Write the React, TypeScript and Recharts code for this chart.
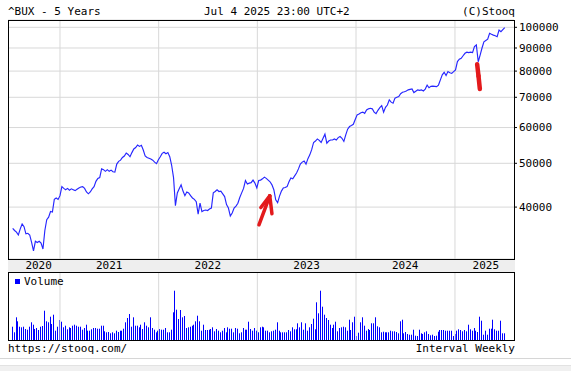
import React from 'react';
import { LineChart, Line, XAxis, YAxis, CartesianGrid, ReferenceLine, BarChart, Bar } from 'recharts';

const WEEK = 7 * 24 * 3600 * 1000;
const START = Date.UTC(2020, 6, 10);

// weekly closes of ^BUX
const closes = [
  35900, 35500, 35200, 34700, 35800, 36700, 36200, 34900, 35000, 34700,
  33400, 32000, 33600, 33400, 33600, 33300, 32300, 35500, 37500, 38000,
  39100, 39000, 41600, 41900, 41600, 42400, 44400, 44000, 43700, 44000,
  43600, 43900, 43700, 43500, 43800, 44100, 44300, 44400, 44000, 43200,
  42800, 43200, 43900, 44400, 45600, 46300, 46500, 48600, 48400, 48000,
  48400, 48000, 48300, 47900, 47800, 49800, 50500, 50800, 51500, 51900,
  52700, 52300, 51700, 52800, 53800, 54200, 54900, 54500, 54800, 53500,
  51900, 51500, 51300, 51100, 50800, 50300, 49900, 50900, 51700, 52600,
  52900, 52500, 52800, 51700, 49500, 46500, 40300, 43000, 43900, 44800,
  43400, 42400, 43200, 43000, 42400, 41900, 41600, 41100, 38600, 40800,
  39100, 39300, 39400, 39300, 39600, 39800, 43000, 43300, 43700, 43300,
  43400, 42800, 42200, 40500, 39800, 38200, 38800, 39800, 40200, 40800,
  42000, 43000, 44000, 45800, 45000, 45200, 45300, 45900, 45200, 44100,
  45800, 45900, 46200, 46600, 46300, 45900, 45500, 44800, 43700, 41500,
  40900, 42300, 43400, 44100, 44200, 44400, 45500, 46400, 46200, 46900,
  47600, 48600, 49800, 50300, 50600, 49800, 51200, 52200, 53600, 55600,
  56000, 56600, 56200, 55600, 56800, 58000, 55400, 56000, 56300, 56300,
  56600, 56300, 57000, 57300, 56800, 55900, 57800, 59500, 60300, 60600,
  61000, 62500, 64000, 64300, 64700, 64900, 64500, 65600, 66000, 66200,
  66000, 64900, 64400, 65500, 66400, 67100, 64900, 66500, 67300, 69100,
  68300, 67900, 69700, 70000, 70300, 71300, 71800, 72000, 72300, 72700,
  72900, 73050, 71700, 72200, 72700, 72500, 72700, 72300, 73000, 74500,
  73500, 74000, 74100, 74000, 73900, 74500, 76500, 78500, 79500, 78200,
  79800, 79300, 79100, 79800, 80500, 84000, 85000, 85400, 86500, 87600,
  88100, 87900, 88100, 87900, 90600, 91400, 83900, 86800, 90000, 92900,
  93500, 94100, 97000, 96500, 96100, 95800, 95300, 98600, 97800, 98800,
  99800,
];

// weekly volume (relative units)
const volumes = [
  13.3, 7.7, 22.7, 18.7, 13.3, 12.7, 13.3, 11, 10.3, 13.3,
  17.7, 15.3, 11, 12, 10, 13.3, 14, 29.3, 18.7, 17.7,
  23.3, 16, 25.3, 9.3, 13.3, 20, 18.3, 12.7, 14.3, 10.7,
  12.7, 12, 14.3, 15.3, 14.3, 13.3, 13.3, 10.3, 12, 15.3,
  9.3, 9.3, 10.7, 12, 12, 11.3, 11.3, 14.3, 14.3, 8.7,
  7.7, 8, 6.7, 7.7, 6.7, 9.3, 8, 9.3, 9.3, 11.3,
  17.7, 22, 26, 13.3, 22.7, 14.3, 14.3, 12.7, 15.3, 11,
  17.7, 14.3, 12.7, 22.7, 12, 10.3, 7.7, 9.3, 11, 10.3,
  10.3, 12, 7.7, 7.7, 10.3, 27.7, 49.3, 30.3, 21, 30,
  22.7, 24, 12, 12.7, 13.3, 14.3, 15.3, 18.7, 24.3, 18.7,
  9.3, 15.3, 10, 10, 10.3, 11, 12.7, 8.7, 11, 9.3,
  7.7, 9.3, 12, 7.7, 12.7, 11.3, 11.3, 7.7, 12, 11.3,
  6.7, 7.7, 12, 10.3, 10.3, 18.3, 11, 9.3, 12, 9.3,
  7.7, 12.7, 13.3, 12.7, 9.3, 9.3, 7.7, 8.7, 9.3, 10.3,
  17.7, 9.3, 7.7, 7.7, 7.7, 7.7, 10,
  8.7, 12.7, 10.7, 10.7, 16.7, 12.7, 17.7, 10.3, 16.7, 9.3,
  12.7, 16, 21.3, 10.7, 37.7, 26.7, 49.3, 33.3, 25.3, 22,
  20, 15.3, 12, 15.3, 18.3, 8.7, 12, 12.7, 13.3, 12.7,
  9.3, 20.3, 10, 17.7, 23.3, 4, 7.3, 17.7, 22.7, 14.3,
  9.3, 11, 10, 16.7, 16.7, 22.7, 13.7, 12.7, 7.7, 8.3,
  7.7, 7.7, 7.7, 9.3, 8.7, 8.7, 8, 6.7, 18.7, 20.3,
  6.7, 8, 6, 5.3, 5.3, 10.3, 4.3, 4, 10.3, 6.7,
  6, 7.7, 8.7, 6, 4.7, 5.3, 4, 4.3, 8.3, 10,
  10, 10, 9.3, 9.3, 9.3, 9.3, 4, 6, 9.3, 10.7,
  10, 8.7, 10, 8.7, 15.3, 10.7, 9.3, 12, 9.3, 8,
  23.3, 19.3, 5.3, 9.3, 5.3, 11.3, 11.3, 20.3, 10.7, 9.3,
  9.3, 19.3, 6.7, 6.7,
];

const yearLabels = ['2020', '2021', '2022', '2023', '2024', '2025'];
const yearLabelDates = ['2020-10-14', '2021-07-02', '2022-07-02', '2023-07-02', '2024-07-01', '2025-04-25'].map((d) => Date.parse(d));
const yearStarts = ['2021-01-01', '2022-01-01', '2023-01-01', '2024-01-01', '2025-01-01'].map((d) => Date.parse(d));
const priceTicks = [40000, 50000, 60000, 70000, 80000, 90000, 100000];
const xDomain = [START - 2.47 * WEEK, START + 264.9 * WEEK];
const yDomain = [30700, 103800];

// hand-drawn red marks on the picture, in data units [date, value]
const annotationSegments: [string, number][][] = [
  [['2023-01-07', 36550], ['2023-02-16', 42360]],
  [['2023-01-14', 39910], ['2023-02-16', 42360]],
  [['2023-02-16', 42360], ['2023-02-24', 38650]],
  [['2025-03-24', 82830], ['2025-03-29', 78040]],
  [['2025-03-29', 78040], ['2025-04-03', 73040]],
];

const data = closes.map((c, i) => ({ t: START + i * WEEK, close: c, vol: volumes[i] }));

const FONT = 'DejaVu Sans Mono';
const GRID = '#d8d8d8';

const YearTick = (props: any) => {
  const { x, payload } = props;
  const i = yearLabelDates.indexOf(payload.value);
  return (
    <text x={x} y={269} textAnchor="middle" fontFamily={FONT} fontSize={11} fill="#000">
      {yearLabels[i]}
    </text>
  );
};

const VolBar = (props: any) => {
  const { x, y, height, fill } = props;
  if (!height || height <= 0) return null;
  return <rect x={Math.round(x)} y={y} width={1} height={height} fill={fill} />;
};

export default function App() {
  return (
    <div style={{ position: 'fixed', left: 0, top: 0, width: 571, height: 371, background: '#fff', overflow: 'hidden' }}>
      <div style={{ position: 'absolute', left: 8, top: 259, width: 507, height: 14, boxSizing: 'border-box', background: '#eeeeee', borderTop: '1px solid #000', borderBottom: '1px solid #000' }} />
      <div style={{ position: 'absolute', left: 0, top: 0 }}>
        <LineChart width={571} height={272} data={data} margin={{ top: 20, right: 0, bottom: 0, left: 8 }}>
          <CartesianGrid vertical={false} stroke={GRID} />
          <XAxis
            type="number"
            dataKey="t"
            domain={xDomain}
            allowDataOverflow
            ticks={yearLabelDates}
            height={13}
            tickLine={false}
            axisLine={false}
            tick={<YearTick />}
            interval={0}
          />
          <YAxis
            orientation="right"
            scale="log"
            domain={yDomain}
            allowDataOverflow
            ticks={priceTicks}
            width={57}
            tickSize={3}
            tickLine={{ stroke: '#000' }}
            axisLine={false}
            tick={{ fontFamily: FONT, fontSize: 11, fill: '#000' }}
            interval={0}
          />
          <YAxis
            yAxisId="l"
            orientation="left"
            scale="log"
            domain={yDomain}
            allowDataOverflow
            ticks={priceTicks}
            width={0}
            mirror
            tickSize={3}
            tick={false}
            tickLine={{ stroke: '#000' }}
            axisLine={false}
            interval={0}
          />
          {yearStarts.map((d) => (
            <ReferenceLine key={d} x={d} stroke={GRID} />
          ))}
          <Line type="linear" dataKey="close" stroke="#2626ff" strokeWidth={1.15} dot={false} isAnimationActive={false} />
          {annotationSegments.map((s, i) => (
            <ReferenceLine
              key={'a' + i}
              segment={s.map(([d, v]) => ({ x: Date.parse(d), y: v }))}
              stroke="#e31a1c"
              strokeWidth={i < 3 ? 3.5 : 4.5}
              strokeLinecap="round"
            />
          ))}
        </LineChart>
      </div>
      <div style={{ position: 'absolute', left: 0, top: 272 }}>
        <BarChart width={571} height={68} data={data} margin={{ top: 0, right: 57, bottom: 0, left: 8 }}>
          <XAxis
            type="number"
            dataKey="t"
            domain={xDomain}
            allowDataOverflow
            orientation="top"
            height={0}
            ticks={yearStarts}
            tick={false}
            axisLine={false}
            tickLine={{ stroke: '#000' }}
            tickSize={3}
            mirror
            interval={0}
          />
          <YAxis hide domain={[0, 68]} />
          {yearStarts.map((d) => (
            <ReferenceLine key={d} x={d} stroke={GRID} />
          ))}
          <Bar dataKey="vol" fill="#0000ff" barSize={1} isAnimationActive={false} shape={<VolBar />} />
        </BarChart>
      </div>
      <div style={{ position: 'absolute', left: 8, top: 20, width: 507, height: 240, boxSizing: 'border-box', border: '1px solid #000', pointerEvents: 'none' }} />
      <div style={{ position: 'absolute', left: 8, top: 272, width: 507, height: 69, boxSizing: 'border-box', border: '1px solid #000', pointerEvents: 'none' }} />
      <svg width={571} height={371} style={{ position: 'absolute', left: 0, top: 0, pointerEvents: 'none' }}>
        <g fontFamily={FONT} fontSize={11} fill="#000">
          <text x={8} y={15}>^BUX - 5 Years</text>
          <text x={204} y={15}>Jul 4 2025 23:00 UTC+2</text>
          <text x={515} y={15} textAnchor="end">(C)Stooq</text>
          <rect x={15} y={279} width={5} height={5} fill="#0000ff" />
          <text x={24} y={285}>Volume</text>
          <text x={8} y={352}>https://stooq.com/</text>
          <text x={515} y={352} textAnchor="end">Interval Weekly</text>
        </g>
      </svg>
      <div style={{ position: 'absolute', left: 0, top: 358, width: 571, height: 1, background: '#d6d6d6' }} />
      <div style={{ position: 'absolute', left: 0, top: 365, width: 571, height: 6, background: '#f0f0f0', borderTop: '1px solid #e2e2e2', boxSizing: 'border-box' }} />
    </div>
  );
}
